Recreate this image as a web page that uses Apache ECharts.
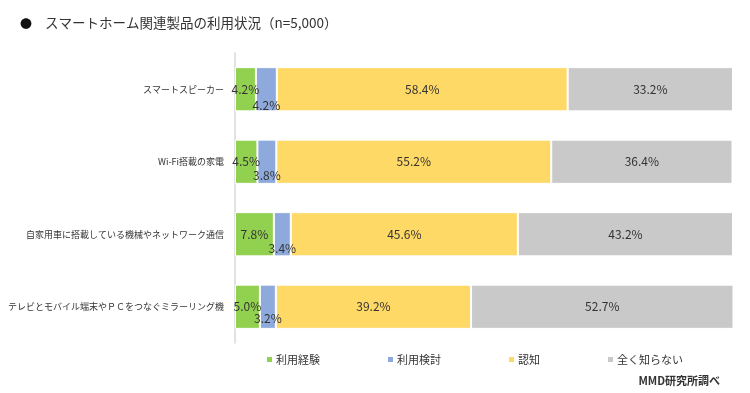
<!DOCTYPE html>
<html><head><meta charset="utf-8">
<script src="https://cdn.jsdelivr.net/npm/echarts@6/dist/echarts.min.js"></script>
<style>html,body{margin:0;padding:0;background:#fff}#c{width:750px;height:393px}</style>
</head><body><div id="c"></div>
<script>
const categories = ['スマートスピーカー','Wi-Fi搭載の家電','自家用車に搭載している機械やネットワーク通信','テレビとモバイル端末やＰＣをつなぐミラーリング機'];
const seriesNames = ['利用経験','利用検討','認知','全く知らない'];
const experience = [4.2, 4.5, 7.8, 5.0];
const consider = [4.2, 3.8, 3.4, 3.2];
const aware = [58.4, 55.2, 45.6, 39.2];
const unaware = [33.2, 36.4, 43.2, 52.7];
const titleText = 'スマートホーム関連製品の利用状況（n=5,000）';
const sourceText = 'MMD研究所調べ';

const colors = ['#92D050','#8EA9DB','#FFD966','#C9C9C9'];
const blueLabelDy = [16, 14, 14, 12];
const font = '"Noto Sans CJK JP", "Noto Sans", sans-serif';
const fmt = p => p.value.toFixed(1) + '%';
const mk = (name, vals, color, extra) => ({
  name, type: 'bar', stack: 's', barWidth: '61%',
  itemStyle: { color, borderColor: '#fff', borderWidth: 1 },
  label: { show: true, position: 'inside', formatter: fmt, color: '#333', fontSize: 12, fontFamily: font },
  data: vals.map((v, i) => extra ? { value: v, label: { offset: [0, extra[i]] } } : v)
});
const chart = echarts.init(document.getElementById('c'));
chart.setOption({
  animation: false,
  textStyle: { fontFamily: font },
  title: [
    { text: '●', left: 15, top: 13, textStyle: { fontSize: 12, fontWeight: 'normal', color: '#111', fontFamily: font } },
    { text: titleText, left: 40, top: 11, textStyle: { fontSize: 13.5, fontWeight: 'normal', color: '#333', fontFamily: font } },
    { text: sourceText, right: 25, top: 370, textStyle: { fontSize: 11, fontWeight: 'bold', color: '#333', fontFamily: font } }
  ],
  legend: {
    data: seriesNames, left: 260, top: 349, itemWidth: 7, itemHeight: 7, itemGap: 66, icon: 'rect',
    textStyle: { fontSize: 11, color: '#333', fontFamily: font, padding: [0, 0, 0, -2] }
  },
  grid: { left: 235, right: 17, top: 53, bottom: 50 },
  xAxis: { type: 'value', min: 0, max: 100, show: false },
  yAxis: {
    type: 'category', data: categories, inverse: true,
    axisLine: { show: true, lineStyle: { color: '#D9D9D9', width: 1.5 } },
    axisTick: { show: false },
    axisLabel: { fontSize: 9, color: '#333', margin: 11, fontFamily: font }
  },
  series: [
    mk(seriesNames[0], experience, colors[0]),
    mk(seriesNames[1], consider, colors[1], blueLabelDy),
    mk(seriesNames[2], aware, colors[2]),
    mk(seriesNames[3], unaware, colors[3])
  ]
});
</script></body></html>
